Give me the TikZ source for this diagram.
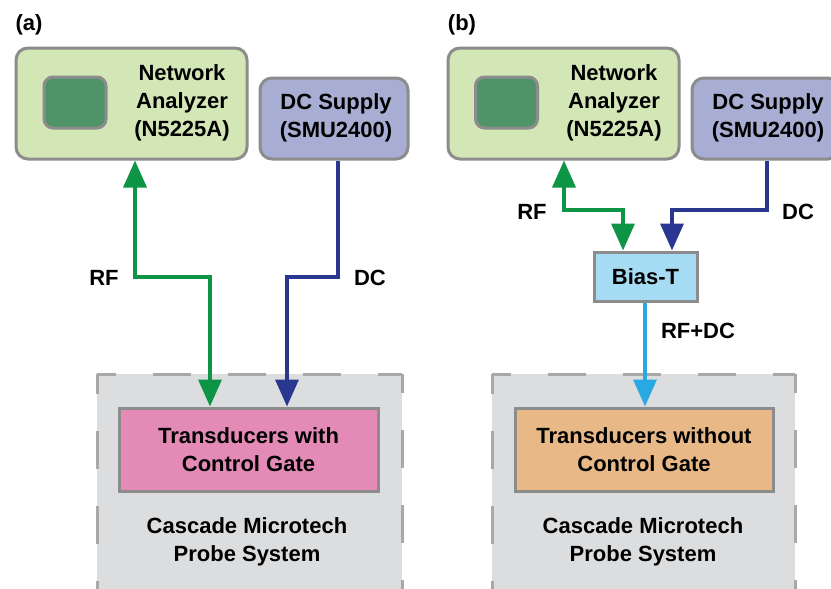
\documentclass[tikz,border=0pt]{standalone}
\usepackage{fontspec}
\setmainfont{Liberation Sans}
\usetikzlibrary{arrows.meta}
\definecolor{nafill}{HTML}{D3E7B6}
\definecolor{scrfill}{HTML}{4F9468}
\definecolor{bordergray}{HTML}{8C8C8C}
\definecolor{dcfill}{HTML}{A8AED3}
\definecolor{pinkfill}{HTML}{E38BB6}
\definecolor{orangefill}{HTML}{E8B987}
\definecolor{biasfill}{HTML}{A6DCF3}
\definecolor{rfgreen}{HTML}{0E9445}
\definecolor{dcblue}{HTML}{2A3790}
\definecolor{rfdccyan}{HTML}{29A9E1}
\definecolor{probefill}{HTML}{DCDDDF}
\definecolor{probeedge}{HTML}{A8A8A8}
\tikzset{
  txt/.style={font=\bfseries\fontsize{22}{28}\selectfont, align=center, inner sep=0pt},
  box/.style={draw=bordergray, line width=3pt, inner sep=0pt},
  rbox/.style={box, rounded corners=12pt},
  scr/.style={box, fill=scrfill, rounded corners=9pt, minimum width=62pt, minimum height=51pt},
  conn/.style={line width=3.5pt, {Triangle[length=27pt,width=23pt]}-{Triangle[length=27pt,width=23pt]}},
  conn1/.style={line width=3.5pt, -{Triangle[length=27pt,width=23pt]}},
  dashedge/.style={draw=probeedge, line width=3pt, dash pattern=on 38pt off 37pt, dash phase=19pt},
}
\begin{document}
\begin{tikzpicture}[x=1pt,y=-1pt]
\useasboundingbox (0,0) rectangle (831,589);
\clip (0,0) rectangle (831,589);
% panel labels
\node[txt] (la) at (29,25) {(a)};
\node[txt] (lb) at (462,25) {(b)};
% ---------- panel (a) ----------
\node[rbox, fill=nafill, minimum width=231pt, minimum height=111pt] (na1) at (131.5,103.5) {};
\node[scr] (scr1) at (75,102.5) {};
\node[txt] (nat1) at (182,103) {Network\\Analyzer\\(N5225A)};
\node[rbox, fill=dcfill, minimum width=148pt, minimum height=81pt] (dc1) at (334,118.5) {};
\node[txt] (dct1) at (336,117.5) {DC Supply\\(SMU2400)};
% probe system (a)
\fill[probefill] (97,374) rectangle (402,600);
\draw[dashedge] (97,600) -- (97,374);
\draw[dashedge] (97,374) -- (402,374);
\draw[dashedge] (402,374) -- (402,600);
\node[box, fill=pinkfill, minimum width=259pt, minimum height=83pt] (dut1) at (248.5,449.5) {};
\node[txt] (dutt1) at (248.5,450) {Transducers with\\Control Gate};
\node[txt] (ps1) at (247,542) {Cascade Microtech\\Probe System};
% connectors (a)
\coordinate (g1) at (135,277);
\coordinate (g2) at (210,277);
\coordinate (b1) at (338,277);
\coordinate (b2) at (287,277);
\draw[conn, draw=rfgreen] (na1.south -| g1) -- (g1) -- (g2) -- (g2 |- dut1.north);
\draw[conn1, draw=dcblue] (dc1.south -| b1) -- (b1) -- (b2) -- (b2 |- dut1.north);
\node[txt] (rf1) at (104,278) {RF};
\node[txt] (dcl1) at (370,278) {DC};
% ---------- panel (b) ----------
\node[rbox, fill=nafill, minimum width=231pt, minimum height=111pt] (na2) at (563.5,103.5) {};
\node[scr] (scr2) at (506.5,102.5) {};
\node[txt] (nat2) at (614,103) {Network\\Analyzer\\(N5225A)};
\node[rbox, fill=dcfill, minimum width=148pt, minimum height=81pt] (dc2) at (766,118.5) {};
\node[txt] (dct2) at (768,117.5) {DC Supply\\(SMU2400)};
\node[box, fill=biasfill, minimum width=103pt, minimum height=49pt] (bias) at (645.5,276.5) {};
\node[txt] (biast) at (645.5,277) {Bias-T};
% probe system (b)
\fill[probefill] (492,374) rectangle (795,600);
\draw[dashedge] (492,600) -- (492,374);
\draw[dashedge] (492,374) -- (795,374);
\draw[dashedge] (795,374) -- (795,600);
\node[box, fill=orangefill, minimum width=258pt, minimum height=83pt] (dut2) at (644,449.5) {};
\node[txt] (dutt2) at (644,450) {Transducers without\\Control Gate};
\node[txt] (ps2) at (643,542) {Cascade Microtech\\Probe System};
% connectors (b)
\coordinate (g3) at (564,210);
\coordinate (g4) at (623,210);
\coordinate (b3) at (767,210);
\coordinate (b4) at (672,210);
\coordinate (c1) at (645,300);
\draw[conn, draw=rfgreen] (na2.south -| g3) -- (g3) -- (g4) -- (g4 |- bias.north);
\draw[conn1, draw=dcblue] (dc2.south -| b3) -- (b3) -- (b4) -- (b4 |- bias.north);
\draw[conn1, draw=rfdccyan] (bias.south -| c1) -- (c1 |- dut2.north);
\node[txt] (rf2) at (532,212) {RF};
\node[txt] (dcl2) at (798,212) {DC};
\node[txt] (rfdc) at (698,331) {RF+DC};
\end{tikzpicture}
\end{document}
